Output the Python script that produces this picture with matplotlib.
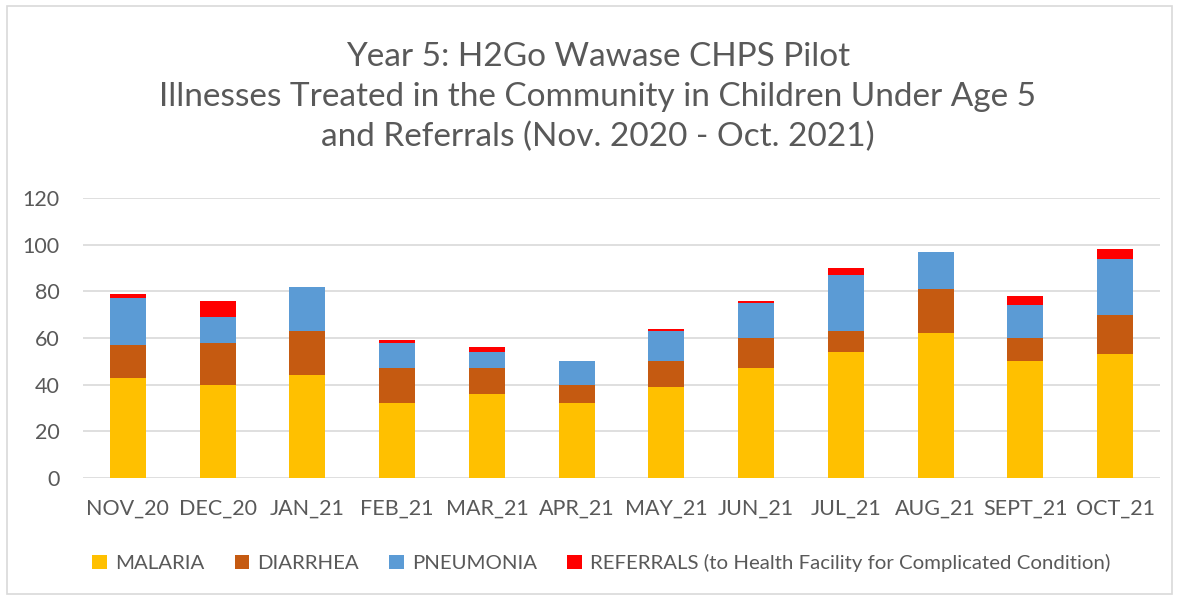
import matplotlib
matplotlib.use('Agg')
import matplotlib.pyplot as plt
from matplotlib.patches import Rectangle
import numpy as np

months = ['NOV_20', 'DEC_20', 'JAN_21', 'FEB_21', 'MAR_21', 'APR_21',
          'MAY_21', 'JUN_21', 'JUL_21', 'AUG_21', 'SEPT_21', 'OCT_21']
malaria = [43, 40, 44, 32, 36, 32, 39, 47, 54, 62, 50, 53]
diarrhea = [14, 18, 19, 15, 11, 8, 11, 13, 9, 19, 10, 17]
pneumonia = [20, 11, 19, 11, 7, 10, 13, 15, 24, 16, 14, 24]
referrals = [2, 7, 0, 1, 2, 0, 1, 1, 3, 0, 4, 4]

series = [('MALARIA', malaria, '#FFC000'),
          ('DIARRHEA', diarrhea, '#C55A11'),
          ('PNEUMONIA', pneumonia, '#5B9BD5'),
          ('REFERRALS (to Health Facility for Complicated Condition)', referrals, '#FF0000')]

plt.rcParams['font.family'] = ['Lato', 'DejaVu Sans']
txt = '#595959'

fig = plt.figure(figsize=(11.79, 5.97), dpi=100)
ax = fig.add_axes([83/1179, 1-478/597, 1077/1179, 280/597])

x = np.arange(len(months))
bottom = np.zeros(len(months))
for name, vals, col in series:
    ax.bar(x, vals, 0.4, bottom=bottom, color=col, label=name, zorder=3)
    bottom += np.array(vals)

ax.set_xlim(-0.5, 11.5)
ax.set_ylim(0, 120)
ax.set_yticks(range(0, 121, 20))
ax.set_xticks(x)
ax.set_xticklabels(months)
ax.yaxis.grid(True, color='#d9d9d9', linewidth=1.2, zorder=0)
for s in ax.spines.values():
    s.set_visible(False)
ax.tick_params(length=0, labelsize=15.5, colors=txt)
ax.tick_params(axis='x', pad=15)
ax.tick_params(axis='y', pad=17)

fig.text(0.507, 1-97/597, 'Year 5: H2Go Wawase CHPS Pilot\n'
         'Illnesses Treated in the Community in Children Under Age 5\n'
         'and Referrals (Nov. 2020 - Oct. 2021)',
         ha='center', va='center', fontsize=24, color=txt, linespacing=1.4)

fig.legend(loc='center', bbox_to_anchor=(0.51, 1-563/597), ncol=4, frameon=False,
           fontsize=14.7, labelcolor=txt, handlelength=0.7, handleheight=0.7,
           handletextpad=0.4, columnspacing=1.5)

fig.patches.append(Rectangle((7/1179, 3/597), 1165/1179, 588/597, transform=fig.transFigure,
                             fill=False, edgecolor='#d9d9d9', linewidth=1.2))

fig.savefig('out.png', dpi=100)
